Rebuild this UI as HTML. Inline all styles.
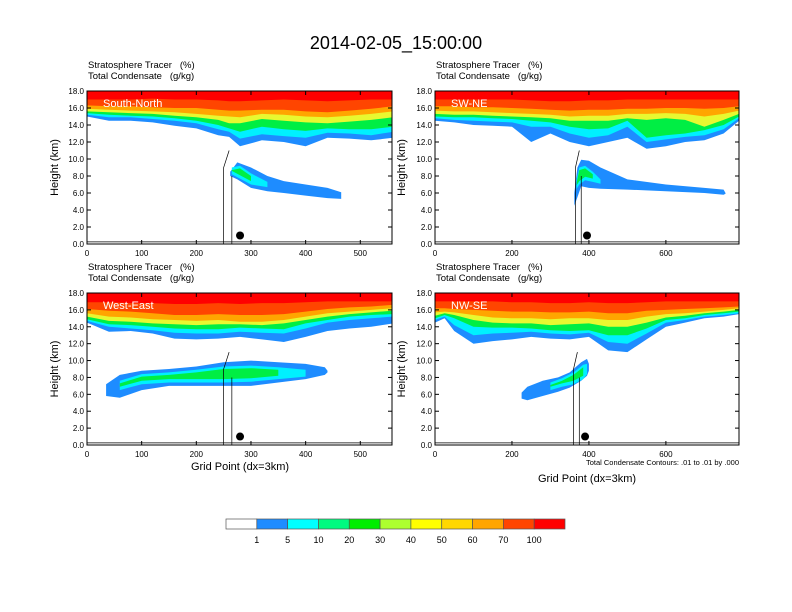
<!DOCTYPE html>
<html><head><meta charset="utf-8">
<style>
body{margin:0;background:#fff;}
svg{display:block;font-family:"Liberation Sans",sans-serif;}
text{white-space:pre;}
</style></head>
<body>
<svg id="fig" width="792" height="612" viewBox="0 0 792 612" xmlns="http://www.w3.org/2000/svg">
<text x="396" y="49" font-size="18" text-anchor="middle">2014-02-05_15:00:00</text>
<g id="panels"></g>
<g id="cbar"></g>
</svg>
<script>
// ---- data (heights in km, x in grid points) ----
const tlXs      = [0,40,80,120,160,200,240,260,280,320,360,400,440,480,520,560];
const tlBlue    = [15.0,14.5,14.5,14.3,13.9,13.6,12.8,12.6,11.5,12.2,12.0,11.5,12.5,12.4,12.2,12.5];
const tlCyan    = [15.2,14.9,14.9,14.7,14.5,14.2,13.5,13.2,12.4,12.9,12.7,12.5,13.1,13.0,12.8,13.2];
const tlGreen   = [15.4,15.2,15.1,15.0,14.8,14.5,14.0,13.6,13.2,13.8,13.5,13.3,13.6,13.5,13.5,13.8];
const tlYellow  = [15.6,15.5,15.4,15.3,15.1,14.9,14.6,14.2,14.2,14.7,14.5,14.3,14.2,14.4,14.6,14.9];
const tlOrange  = [15.9,15.8,15.7,15.6,15.5,15.3,15.1,15.0,14.9,15.3,15.2,15.0,14.9,15.1,15.3,15.6];
const tlOrRed   = [16.3,16.2,16.2,16.1,16.0,16.0,15.8,15.7,15.7,15.8,15.8,15.6,15.5,15.7,15.9,16.2];
const tlRed     = [17.0,17.0,17.0,17.1,17.0,17.0,16.9,16.8,16.8,16.9,17.0,16.9,16.8,16.9,17.0,17.0];
const tlPlumeX  = [262,275,300,330,360,400,440,465];
const tlPlumeT  = [8.5,9.6,9.0,8.0,7.4,7.0,6.6,6.1];
const tlPlumeB  = [8.0,7.6,6.6,6.2,6.0,5.7,5.4,5.3];
const tlInnerX  = [265,280,300,330];
const tlInnerT  = [9.0,9.2,8.3,7.3];
const tlInnerB  = [8.2,7.7,7.0,6.7];

const trXs      = [0,50,100,150,200,250,300,350,400,450,500,550,600,650,700,750,790];
const trBlue    = [14.5,14.3,14.0,13.9,13.8,12.0,13.0,12.0,11.5,12.0,12.5,11.2,11.5,12.0,12.2,13.0,14.5];
const trCyan    = [14.8,14.6,14.5,14.4,14.3,13.8,13.8,13.0,12.5,12.8,13.8,12.0,12.3,12.6,12.8,13.5,14.8];
const trGreen   = [15.0,14.9,14.9,14.8,14.7,14.5,14.3,13.8,13.5,13.6,14.5,12.5,12.8,13.0,13.4,14.0,15.0];
const trYellow  = [15.3,15.2,15.2,15.1,15.0,14.9,14.8,14.5,14.5,14.5,14.8,14.6,14.8,14.6,13.8,14.6,15.3];
const trOrange  = [15.7,15.6,15.6,15.5,15.4,15.3,15.2,15.0,15.1,15.1,15.3,15.3,15.4,15.3,15.0,15.3,15.7];
const trOrRed   = [16.2,16.2,16.1,16.1,16.0,15.9,15.8,15.7,15.8,15.8,15.9,15.9,16.0,16.0,15.9,16.0,16.2];
const trRed     = [17.0,17.0,17.0,17.0,17.0,16.9,16.8,16.8,16.9,16.9,17.0,17.0,17.0,17.0,17.0,17.0,17.0];
const trPlumeX  = [362,370,380,400,430,500,600,700,750,755];
const trPlumeT  = [6.0,9.0,9.9,9.8,9.0,7.6,7.0,6.6,6.4,6.0];
const trPlumeB  = [4.5,5.5,6.8,6.6,6.5,6.4,6.2,6.0,5.8,5.9];
const trInnerX  = [368,375,390,410,430];
const trInnerT  = [7.5,9.0,9.2,8.5,7.6];
const trInnerB  = [6.5,7.0,7.5,7.3,7.1];

const blXs      = [0,40,80,120,160,200,240,280,320,360,400,440,480,520,560];
const blBlue    = [14.5,13.4,13.5,13.2,12.6,12.5,12.6,12.8,12.5,12.2,12.8,13.5,13.8,14.0,14.4];
const blCyan    = [14.7,14.0,13.8,13.6,13.3,13.2,13.2,13.4,13.3,13.2,13.8,14.5,14.8,15.0,15.2];
const blGreen   = [14.9,14.3,14.2,14.0,13.8,13.7,13.7,13.9,13.8,13.7,14.4,14.8,15.2,15.4,15.5];
const blYellow  = [15.2,14.7,14.6,14.4,14.3,14.2,14.3,14.3,14.2,14.4,14.8,15.2,15.5,15.7,15.9];
const blOrange  = [15.6,15.2,15.1,14.9,14.8,14.7,14.8,14.6,14.6,14.8,15.2,15.6,15.8,16.0,16.2];
const blOrRed   = [16.1,15.9,15.8,15.6,15.4,15.4,15.5,15.4,15.4,15.5,15.8,16.1,16.3,16.4,16.6];
const blRed     = [16.9,16.9,16.8,16.8,16.7,16.7,16.8,16.7,16.8,16.8,16.9,17.0,17.0,17.0,17.0];
const blPlumeX  = [35,60,100,150,200,250,300,350,400,435,440];
const blPlumeT  = [7.2,8.3,8.8,9.0,9.3,9.8,10.0,9.8,9.6,9.2,8.8];
const blPlumeB  = [5.8,5.6,6.5,7.0,7.0,7.0,7.0,7.4,7.8,8.3,8.6];
const blInnerX  = [60,100,150,200,250,300,350,400];
const blInnerT  = [7.6,8.4,8.6,8.9,9.3,9.4,9.2,8.9];
const blInnerB  = [6.5,7.2,7.4,7.4,7.4,7.5,7.8,8.1];

const brXs      = [0,25,50,100,150,200,250,300,350,400,450,500,550,600,650,700,750,790];
const brBlue    = [14.5,15.0,13.5,12.0,12.3,12.5,12.8,12.6,12.5,12.8,11.2,11.0,12.5,14.0,14.5,15.0,15.2,15.5];
const brCyan    = [14.8,15.2,14.2,13.0,13.2,13.3,13.4,13.2,13.1,13.3,12.2,12.0,13.2,14.5,14.8,15.2,15.4,15.6];
const brGreen   = [15.0,15.4,15.0,14.0,13.9,13.9,13.8,13.6,13.5,13.6,13.0,13.0,13.8,14.8,15.0,15.4,15.6,15.8];
const brYellow  = [15.3,15.6,15.4,14.8,14.5,14.4,14.4,14.2,14.3,14.4,14.0,14.0,14.5,15.1,15.3,15.6,15.8,16.0];
const brOrange  = [15.7,15.8,15.7,15.4,15.1,15.0,15.0,14.9,15.0,15.0,14.8,14.8,15.2,15.5,15.6,15.8,16.0,16.2];
const brOrRed   = [16.2,16.2,16.1,16.0,15.9,15.8,15.8,15.7,15.7,15.8,15.6,15.6,15.9,16.0,16.1,16.2,16.3,16.4];
const brRed     = [17.0,17.0,17.0,17.0,17.0,16.9,16.9,16.8,16.8,16.9,16.8,16.8,16.9,17.0,17.0,17.0,17.0,17.0];
const brPlumeX  = [225,240,280,320,350,380,395,400];
const brPlumeT  = [6.2,6.9,7.6,8.0,8.6,9.8,10.2,9.6];
const brPlumeB  = [5.5,5.3,5.8,6.3,6.8,7.6,8.2,8.8];
const brInnerX  = [300,330,360,385,395];
const brInnerT  = [7.4,7.9,8.6,9.5,9.6];
const brInnerB  = [6.5,6.9,7.2,7.8,8.4];

const cbarLabels = ["1","5","10","20","30","40","50","60","70","100"];
const cbarColors = ["#ffffff","#1e8cff","#00ffff","#00fa80","#00ee00","#adff2f","#ffff00","#ffd700","#ffa500","#ff4500","#ff0000"];

const NS="http://www.w3.org/2000/svg";
const levelColors=["#1e8cff","#00f0ff","#00ee44","#e8f830","#ffa500","#ff4500","#ff0000"];
function mk(tag,attrs,parent){const e=document.createElementNS(NS,tag);for(const k in attrs)e.setAttribute(k,attrs[k]);parent.appendChild(e);return e;}

const panels=[
 {id:"tl",x0:87,y0:91,w:305,h:153,xmax:558,ticks:[0,100,200,300,400,500],label:"South-North",xs:tlXs,levels:[tlBlue,tlCyan,tlGreen,tlYellow,tlOrange,tlOrRed,tlRed],px:tlPlumeX,pt:tlPlumeT,pb:tlPlumeB,ix:tlInnerX,it:tlInnerT,ib:tlInnerB,dot:280,ylab:58},
 {id:"tr",x0:435,y0:91,w:304,h:153,xmax:790,ticks:[0,200,400,600],label:"SW-NE",xs:trXs,levels:[trBlue,trCyan,trGreen,trYellow,trOrange,trOrRed,trRed],px:trPlumeX,pt:trPlumeT,pb:trPlumeB,ix:trInnerX,it:trInnerT,ib:trInnerB,dot:395,ylab:405},
 {id:"bl",x0:87,y0:293,w:305,h:152,xmax:558,ticks:[0,100,200,300,400,500],label:"West-East",xs:blXs,levels:[blBlue,blCyan,blGreen,blYellow,blOrange,blOrRed,blRed],px:blPlumeX,pt:blPlumeT,pb:blPlumeB,ix:blInnerX,it:blInnerT,ib:blInnerB,dot:280,ylab:58},
 {id:"br",x0:435,y0:293,w:304,h:152,xmax:790,ticks:[0,200,400,600],label:"NW-SE",xs:brXs,levels:[brBlue,brCyan,brGreen,brYellow,brOrange,brOrRed,brRed],px:brPlumeX,pt:brPlumeT,pb:brPlumeB,ix:brInnerX,it:brInnerT,ib:brInnerB,dot:390,ylab:405}
];
const root=document.getElementById("panels");
panels.forEach(p=>{
 const X=v=>p.x0+v/p.xmax*p.w, Y=v=>p.y0+p.h-v/18*p.h;
 const g=mk("g",{},root);
 
 
 const cp=mk("clipPath",{id:"c"+p.id},g); mk("rect",{x:p.x0,y:p.y0,width:p.w,height:p.h},cp);
 const dg=mk("g",{"clip-path":"url(#c"+p.id+")"},g);
 p.levels.forEach((arr,li)=>{
  let d="M"+X(p.xs[0])+","+Y(18);
  p.xs.forEach((xv,i)=>{d+=" L"+X(xv).toFixed(1)+","+Y(arr[i]).toFixed(1);});
  d+=" L"+X(p.xs[p.xs.length-1])+","+Y(18)+"Z";
  const e=mk("path",{d:d,fill:levelColors[li]},dg);
  
  
 });
 function blob(xs,t,b,col,name){
  let d="";xs.forEach((xv,i)=>{d+=(i?" L":"M")+X(xv).toFixed(1)+","+Y(t[i]).toFixed(1);});
  for(let i=xs.length-1;i>=0;i--)d+=" L"+X(xs[i]).toFixed(1)+","+Y(b[i]).toFixed(1);
  const e=mk("path",{d:d+"Z",fill:col},dg);
  
  
 }
 blob(p.px,p.pt,p.pb,"#1e8cff","plume-outer");
 blob(p.ix,p.it,p.ib,"#00f0ff","plume-inner");
 const ix2=p.ix.slice(0,-1),it2=p.it.slice(0,-1).map((v,i)=>v-0.3),ib2=p.ib.slice(0,-1).map(v=>v+0.4);
 blob(ix2,it2,ib2,"#00ee44","plume-core");
 const cl=mk("path",{d:"M"+X(0)+","+Y(0.25)+" L"+X(p.xmax)+","+Y(0.25)+" M"+X(p.dot-30)+","+Y(0)+" L"+X(p.dot-30)+","+Y(9)+" L"+X(p.dot-20)+","+Y(11)+" M"+X(p.dot-15)+","+Y(0)+" L"+X(p.dot-15)+","+Y(8),fill:"none",stroke:"#000","stroke-width":0.7},dg);
 
 
 const dot=mk("circle",{cx:X(p.dot),cy:Y(1),r:4,fill:"#000"},g);
 
 
 const fr=mk("rect",{x:p.x0,y:p.y0,width:p.w,height:p.h,fill:"none",stroke:"#000","stroke-width":1},g);
 
 
 for(let v=0;v<=18;v+=2){
  const yy=Y(v);
  mk("line",{x1:p.x0,x2:p.x0+4,y1:yy,y2:yy,stroke:"#000"},g);
  mk("line",{x1:p.x0+p.w,x2:p.x0+p.w-4,y1:yy,y2:yy,stroke:"#000"},g);
  const t=mk("text",{x:p.x0-3,y:yy+3,"font-size":8,"text-anchor":"end"},g);t.textContent=v.toFixed(1);
  
  
 }
 p.ticks.forEach(v=>{
  const xx=X(v);
  mk("line",{x1:xx,x2:xx,y1:p.y0+p.h,y2:p.y0+p.h-4,stroke:"#000"},g);
  mk("line",{x1:xx,x2:xx,y1:p.y0,y2:p.y0+4,stroke:"#000"},g);
  const t=mk("text",{x:xx,y:p.y0+p.h+12,"font-size":8,"text-anchor":"middle"},g);t.textContent=v;
  
  
 });
 const lb=mk("text",{x:p.x0+16,y:p.y0+16,"font-size":11,fill:"#fff"},g);lb.textContent=p.label;
 
 
 const s1=mk("text",{x:p.x0+1,y:p.y0-23,"font-size":9.5},g);s1.textContent="Stratosphere Tracer   (%)";
 
 
 const s2=mk("text",{x:p.x0+1,y:p.y0-12,"font-size":9.5},g);s2.textContent="Total Condensate   (g/kg)";
 
 
 const yl=mk("text",{x:p.ylab,y:p.y0+p.h/2,"font-size":11,"text-anchor":"middle",transform:"rotate(-90 "+p.ylab+" "+(p.y0+p.h/2)+")"},g);yl.textContent="Height (km)";
 
 
});
let t=mk("text",{x:240,y:470,"font-size":11,"text-anchor":"middle"},root);t.textContent="Grid Point (dx=3km)";


t=mk("text",{x:587,y:482,"font-size":11,"text-anchor":"middle"},root);t.textContent="Grid Point (dx=3km)";


t=mk("text",{x:739,y:465,"font-size":7.5,"text-anchor":"end"},root);t.textContent="Total Condensate Contours: .01 to .01 by .000";


const cb=document.getElementById("cbar");
const cbx=226,cbw=339,cby=519,cbh=10,bw=cbw/cbarColors.length;
cbarColors.forEach((c,i)=>{
 const r=mk("rect",{x:cbx+i*bw,y:cby,width:bw,height:cbh,fill:c,stroke:"#555","stroke-width":0.7},cb);
 
 
});
cbarLabels.forEach((l,i)=>{
 const e=mk("text",{x:cbx+(i+1)*bw,y:cby+24,"font-size":9,"text-anchor":"middle"},cb);e.textContent=l;
 
 
});
</script>
</body></html>
